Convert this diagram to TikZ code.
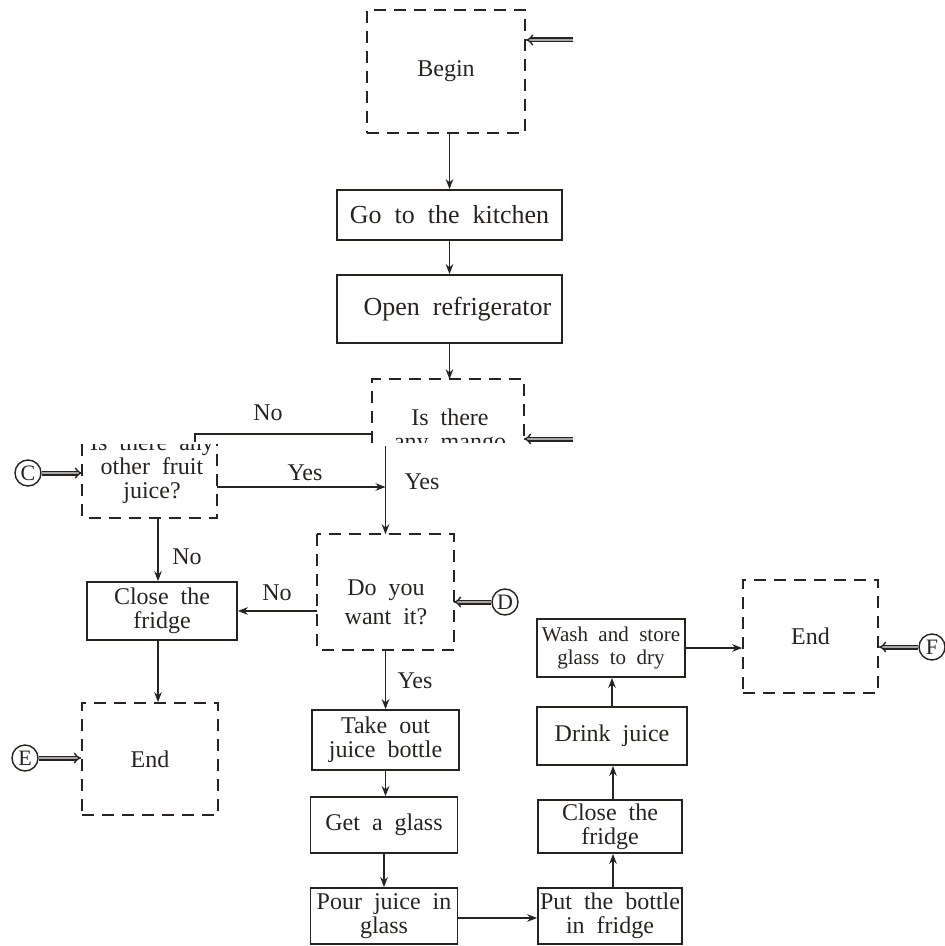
\documentclass[tikz,border=0pt]{standalone}
\usepackage{fontspec}
\setmainfont{Liberation Serif}[WordSpace=2]
\usetikzlibrary{arrows.meta}
\definecolor{ink}{RGB}{40,35,33}
\tikzset{every picture/.style={line width=0.75pt}}
\tikzset{
  flowbox/.style={draw=ink, line width=0.9pt, inner sep=0pt, align=center, text=ink},
  dashbox/.style={draw=ink, line width=0.8pt, dash pattern=on 6pt off 4pt, inner sep=0pt, align=center, text=ink},
  link/.style={draw=ink, line width=0.75pt, -{Stealth[length=5pt,width=3.8pt]}},
  entry/.style={draw=ink, line width=0.7pt, double=ink!40, double distance=1.1pt, -{Implies}},
  letter/.style={draw=ink, circle, line width=0.7pt, inner sep=0pt, minimum size=13pt, font=\fontsize{11}{11}\selectfont, text=ink},
  tag/.style={text=ink, inner sep=0pt, align=center}
}

\begin{document}
\begin{tikzpicture}[x=0.5pt,y=-0.5pt,font=\fontsize{12}{12}\selectfont]
\useasboundingbox (0,0) rectangle (945,946);

% Boxes
\node[dashbox, minimum width=79pt, minimum height=61.5pt] (begin) at (446,71.5) {Begin};
\node[flowbox, minimum width=112.5pt, minimum height=25pt, font=\fontsize{13}{13}\selectfont] (kitchen) at (449.5,215) {Go to the kitchen};
\node[flowbox, minimum width=112.5pt, minimum height=34pt, font=\fontsize{13}{13}\selectfont] (fridge) at (449.5,309) {\hspace*{8pt}Open refrigerator};
\node[inner sep=0pt, minimum width=75pt, minimum height=31pt] (q1) at (448,411) {};
\node[inner sep=0pt, minimum width=66.5pt, minimum height=36pt] (q2) at (149.5,481) {};
\node[inner sep=0pt, minimum width=67.5pt, minimum height=57pt] (q3) at (385.5,592) {};
\node[flowbox, minimum width=75pt, minimum height=29pt] (close1) at (162,611) {Close the\\fridge};
\node[dashbox, minimum width=68pt, minimum height=56pt] (end1) at (150,759) {End};
\node[flowbox, minimum width=73.5pt, minimum height=30pt] (take) at (385.5,740) {Take out\\juice bottle};
\node[flowbox, minimum width=73.5pt, minimum height=28pt] (glass) at (384,825) {Get a glass};
\node[flowbox, minimum width=73.5pt, minimum height=28pt] (pour) at (384,916) {Pour juice in\\glass};
\node[flowbox, minimum width=72pt, minimum height=28pt] (put) at (610,916) {Put the bottle\\in fridge};
\node[flowbox, minimum width=72pt, minimum height=26.5pt] (close2) at (610,826.5) {Close the\\fridge};
\node[flowbox, minimum width=75pt, minimum height=29pt] (drink) at (612,736) {Drink juice};
\node[flowbox, minimum width=74pt, minimum height=29pt, font=\fontsize{10.5}{11.5}\selectfont] (wash) at (611,648) {Wash and store\\glass to dry};
\node[dashbox, minimum width=67.5pt, minimum height=56.5pt] (end2) at (810.5,636.5) {End};

%Dashed Lines (open boxes)
\draw[dashbox] (q1.south west) |- (q1.north east) -- (q1.south east);
\draw[dashbox] (q2.north west) |- (q2.south east) -- (q2.north east);
\draw[dashbox] (q3.north west) rectangle (q3.south east);

% Text Node
\begin{scope}
\clip (q1.north west) rectangle (q1.south east);
\node[tag] (q1txt) at (450,431.5) {Is there\\any mango};
\end{scope}
% Text Node
\begin{scope}
\clip (q2.north west) rectangle (q2.south east);
\node[tag] (q2txt) at (152,468.5) {Is there any\\other fruit\\juice?};
\end{scope}
% Text Node
\node[tag] (q3txt) at (386,602) {Do you\\[2.5pt]want it?};

% Circles
\node[letter] (cC) at (28,473) {C};
\node[letter] (cD) at (505,602) {D};
\node[letter] (cE) at (25,758) {E};
\node[letter] (cF) at (932,647) {F};
\coordinate (bin) at (573,40);
\coordinate (qin) at (573,439);
\coordinate (q2in) at (195,442);

%Straight Lines
\draw[link] (begin.south -| kitchen.north) -- (kitchen.north);
\draw[link] (kitchen.south) -- (kitchen.south |- fridge.north);
\draw[link] (fridge.south) -- (fridge.south |- q1.north);
\draw[draw=ink, line width=0.75pt] ([yshift=4.5pt]q1.south west) -| (q2in);
\draw[link] ([yshift=-3pt]q2.east) -- ([yshift=-3pt]q2.east -| q3.north);
\draw[link] ([yshift=-1.5pt]q1.south -| q3.north) -- (q3.north);
\draw[link] ([xshift=-2pt]close1.north |- q2.south) -- ([xshift=-2pt]close1.north);
\draw[link] (q3.west |- close1.east) -- (close1.east);
\draw[link] ([xshift=-2pt]close1.south) -- ([xshift=-2pt]close1.south |- end1.north);
\draw[link] (q3.south) -- (q3.south |- take.north);
\draw[link] (take.south) -- (take.south |- glass.north);
\draw[link] (glass.south) -- (glass.south |- pour.north);
\draw[link] ([yshift=-1pt]pour.east) -- ([yshift=-1pt]pour.east -| put.west);
\draw[link] ([xshift=1.5pt]put.north) -- ([xshift=1.5pt]put.north |- close2.south);
\draw[link] ([xshift=1.5pt]close2.north) -- ([xshift=1.5pt]close2.north |- drink.south);
\draw[link] (drink.north) -- (drink.north |- wash.south);
\draw[link] (wash.east) -- (wash.east -| end2.west);

%Entry Arrows
\draw[entry] (bin) -- (bin -| begin.east);
\draw[entry] (qin) -- (qin -| q1.east);
\draw[entry] (cC) -- (cC -| q2.west);
\draw[entry] (cD) -- (cD -| q3.east);
\draw[entry] (cE) -- (cE -| end1.west);
\draw[entry] (cF) -- (cF -| end2.east);

% Text Node
\node[tag] (no1) at (268,413) {No};
\node[tag] (yes1) at (305,473) {Yes};
\node[tag] (yes2) at (422,482) {Yes};
\node[tag] (no2) at (187,557) {No};
\node[tag] (no3) at (277,593) {No};
\node[tag] (yes3) at (415,681) {Yes};

\end{tikzpicture}
\end{document}
